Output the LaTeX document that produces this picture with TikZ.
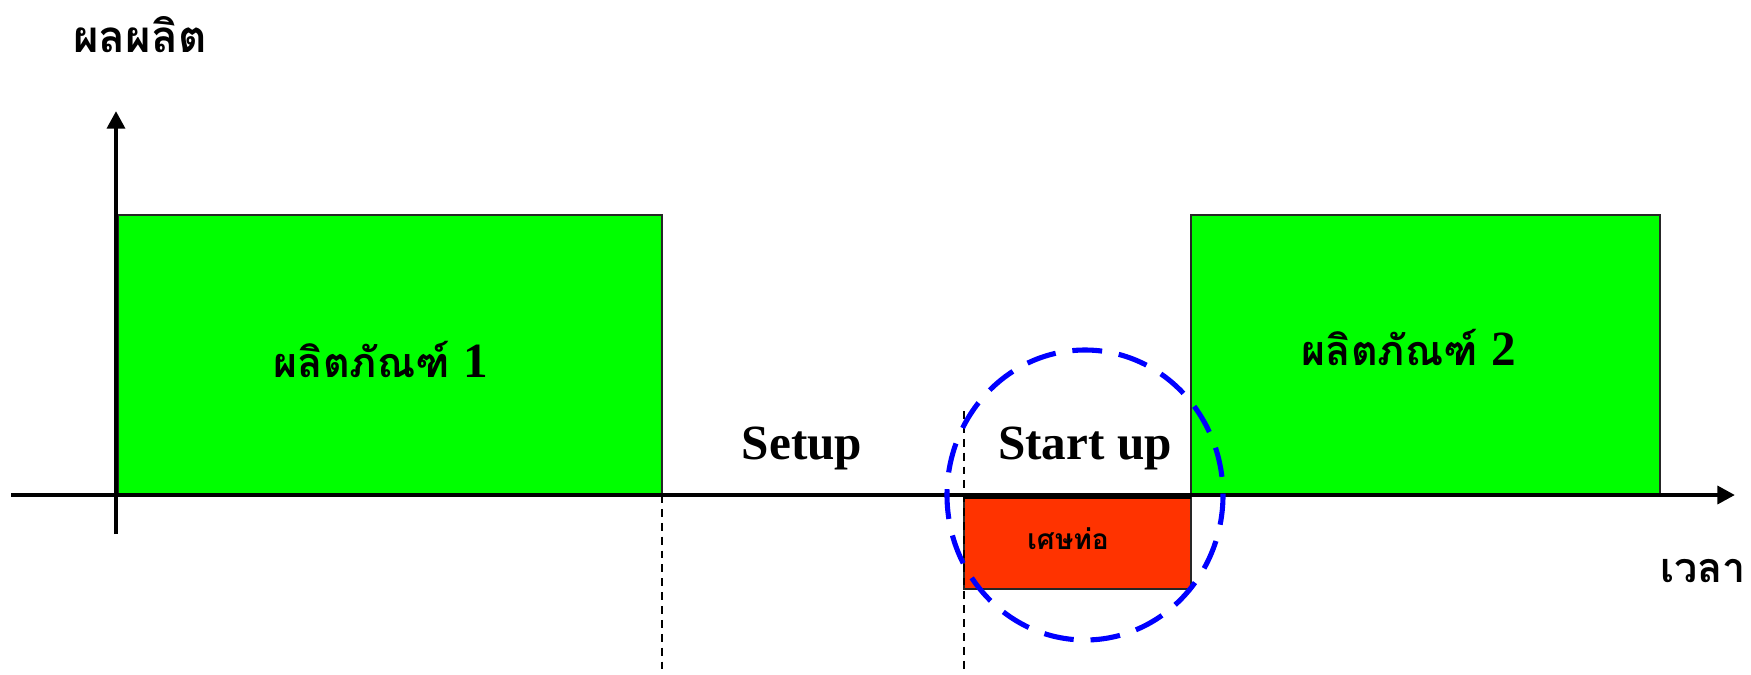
\documentclass[tikz,border=0pt]{standalone}
\usepackage{fontspec}
\setmainfont{Liberation Serif}
\newfontfamily\thaifont[Script=Thai]{Loma}
\usetikzlibrary{arrows.meta}
\definecolor{prodgreen}{HTML}{00FF00}
\definecolor{scrapred}{HTML}{FF3300}
\definecolor{ringblue}{HTML}{0000FF}
\tikzset{
  axisline/.style={line width=2.8pt, -{Triangle[length=10pt,width=10pt]}},
  prodbox/.style={fill=prodgreen, draw=black!85, line width=0.8pt},
  scrapbox/.style={fill=scrapred, draw=black!85, line width=0.8pt},
  guide/.style={draw=black, line width=0.7pt, dash pattern=on 4.5pt off 3.4pt},
  ring/.style={draw=ringblue, line width=2.9pt, dash pattern=on 17pt off 9.6pt},
  latinlabel/.style={anchor=base, font=\bfseries\fontsize{28}{32}\selectfont},
  thailabel/.style={anchor=base, font=\thaifont\bfseries\fontsize{23.5}{30}\selectfont},
}
\begin{document}
\begin{tikzpicture}[x=0.02cm, y=-0.02cm]
  \useasboundingbox (0,0) rectangle (1751,674);

  % production blocks
  \path[prodbox] (118,215) rectangle (662,495);
  \path[prodbox] (1191,215) rectangle (1660,495);
  % start-up scrap block below the time axis
  \path[scrapbox] (964,495) rectangle (1191,589);

  % guide lines
  \coordinate (g1top) at (662,495);
  \coordinate (g1bot) at (662,674);
  \coordinate (g2top) at (964,411);
  \coordinate (g2bot) at (964,674);
  \draw[guide] (g1top) -- (g1bot);
  \draw[guide] (g2top) -- (g2bot);

  % axes
  \coordinate (xstart) at (11,495);
  \coordinate (xend) at (1735,495);
  \coordinate (ystart) at (116,534);
  \coordinate (yend) at (116,111);
  \draw[axisline] (xstart) -- (xend);
  \draw[axisline] (ystart) -- (yend);
  \coordinate (sa) at (964,497);
  \coordinate (sb) at (1191,497);
  \draw[line width=2.8pt] (sa) -- (sb);

  % labels
  \node[thailabel, font=\thaifont\bfseries\fontsize{25}{30}\selectfont] (ylabel) at (140,52) {ผลผลิต};
  \node[thailabel, font=\thaifont\bfseries\fontsize{23.5}{30}\selectfont] (xlabel) at (1703,582) {เวลา};
  \node[thailabel] (p1) at (381,377) {ผลิตภัณฑ์ {\rmfamily\fontsize{28}{32}\selectfont 1}};
  \node[thailabel] (p2) at (1409,365) {ผลิตภัณฑ์ {\rmfamily\fontsize{28}{32}\selectfont 2}};
  \node[latinlabel] (setup) at (802,459) {Setup};
  \node[latinlabel] (startup) at (1085,459) {Start up};
  \node[thailabel, font=\thaifont\bfseries\fontsize{16}{20}\selectfont] (scrap) at (1068,549) {เศษท่อ};

  % highlight ring around the start-up phase
  \coordinate (ringc) at (1085,495);
  \draw[ring] (ringc) ellipse [x radius=138, y radius=145];
\end{tikzpicture}
\end{document}
